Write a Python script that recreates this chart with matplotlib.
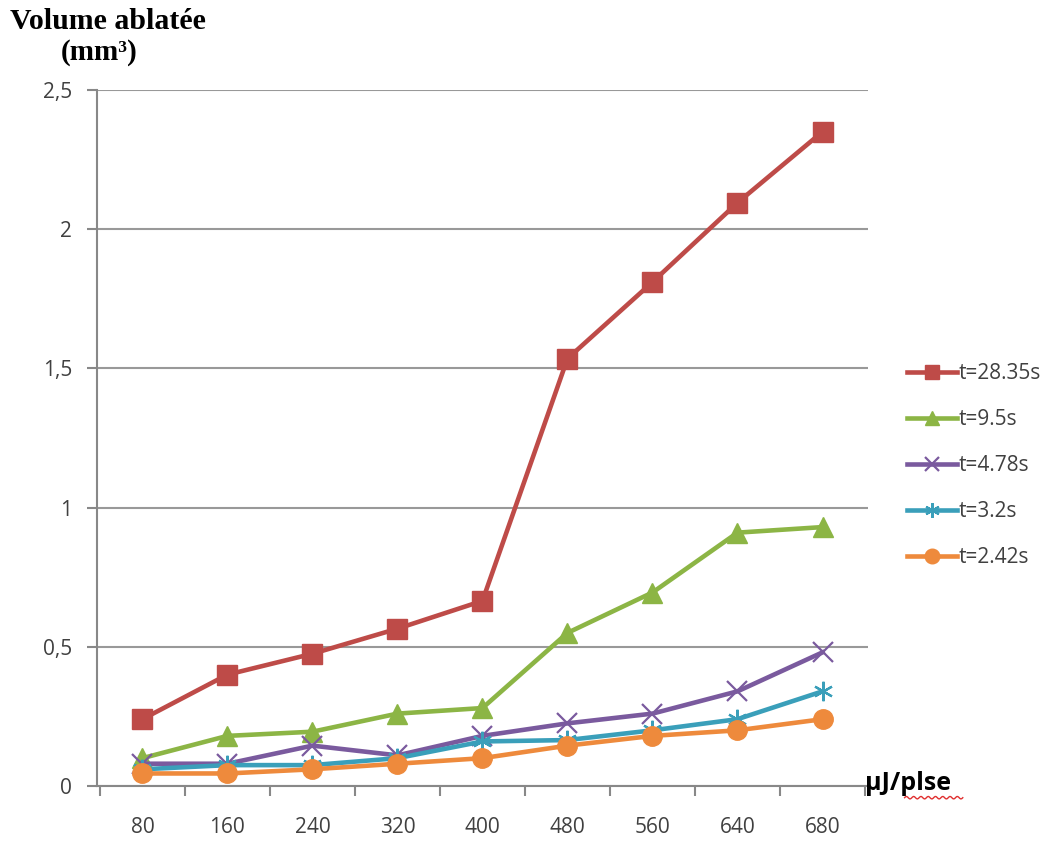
import numpy as np
import matplotlib.pyplot as plt
from matplotlib.lines import Line2D

energies = ['80', '160', '240', '320', '400', '480', '560', '640', '680']
labels = ['t=28.35s', 't=9.5s', 't=4.78s', 't=3.2s', 't=2.42s']
v_2835 = [0.24, 0.40, 0.475, 0.565, 0.665, 1.535, 1.81, 2.095, 2.35]
v_95 = [0.10, 0.18, 0.195, 0.26, 0.28, 0.55, 0.695, 0.91, 0.93]
v_478 = [0.08, 0.08, 0.145, 0.11, 0.18, 0.225, 0.26, 0.34, 0.48]
v_32 = [0.06, 0.075, 0.075, 0.10, 0.16, 0.165, 0.20, 0.24, 0.34]
v_242 = [0.045, 0.045, 0.06, 0.08, 0.10, 0.145, 0.18, 0.20, 0.24]

series = [v_2835, v_95, v_478, v_32, v_242]
colors = ['#BE4B48', '#8CB545', '#7A5A9E', '#3A9FBA', '#EE8A3C']
markers = ['s', '^', 'x', (6, 2, 0), 'o']
txt = '#404040'

fig = plt.figure(figsize=(10.58, 8.41), dpi=100)
ax = fig.add_axes([0.092, 0.0654, 0.728, 0.8276])
x = np.arange(len(energies))
for vals, lab, c, m in zip(series, labels, colors, markers):
    ax.plot(x, vals, color=c, lw=3.3, marker=m, markersize=14,
            markeredgewidth=1.6 if m in ('x', (6, 2, 0)) else 1, label=lab)

ax.set_xlim(-0.53, 8.53)
ax.set_ylim(0, 2.5)
ax.set_yticks([0, 0.5, 1, 1.5, 2, 2.5])
ax.set_yticklabels(['0', '0,5', '1', '1,5', '2', '2,5'], fontsize=15, color=txt,
                   family='Open Sans')
ax.set_xticks(x)
ax.set_xticklabels(energies, fontsize=15, color=txt, family='Open Sans')
ax.set_xticks(np.arange(-0.5, 9, 1), minor=True)
ax.tick_params(axis='x', which='major', length=0, pad=22)
ax.tick_params(axis='x', which='minor', length=7, color='#888888', width=1.5)
ax.tick_params(axis='y', length=7, color='#888888', width=1.5, pad=11)
ax.grid(axis='y', color='#999999', lw=1.5)
ax.set_axisbelow(True)
for s in ['top', 'right']:
    ax.spines[s].set_visible(False)
for s in ['left', 'bottom']:
    ax.spines[s].set_color('#888888')
    ax.spines[s].set_linewidth(1.5)

fig.text(0.009, 0.974, 'Volume ablatée', fontsize=21.5, fontweight='bold',
         family='Liberation Serif', va='center', ha='left')
fig.text(0.094, 0.937, '(mm³)', fontsize=21, fontweight='bold',
         family='Liberation Serif', va='center', ha='center')
fig.text(0.818, 0.0606, 'μJ/plse', fontsize=18, fontweight='bold',
         family='Open Sans', va='baseline', ha='left')
# red spell-check squiggle under "plse"
sq_x = np.linspace(0.855, 0.910, 60)
sq_y = 0.0515 + 0.0015 * np.sin(np.linspace(0, 16 * np.pi, 60))
fig.add_artist(Line2D(sq_x, sq_y, color='#E03030', lw=1, transform=fig.transFigure))

ax.legend(loc='center left', bbox_to_anchor=(0.857, 0.446), bbox_transform=fig.transFigure,
          frameon=False, labelspacing=1.2, handlelength=2.4, borderpad=0,
          borderaxespad=0, handletextpad=0.1, markerscale=0.75,
          prop={'family': 'Open Sans', 'size': 15}, labelcolor=txt)

fig.savefig('out.png', dpi=100)
